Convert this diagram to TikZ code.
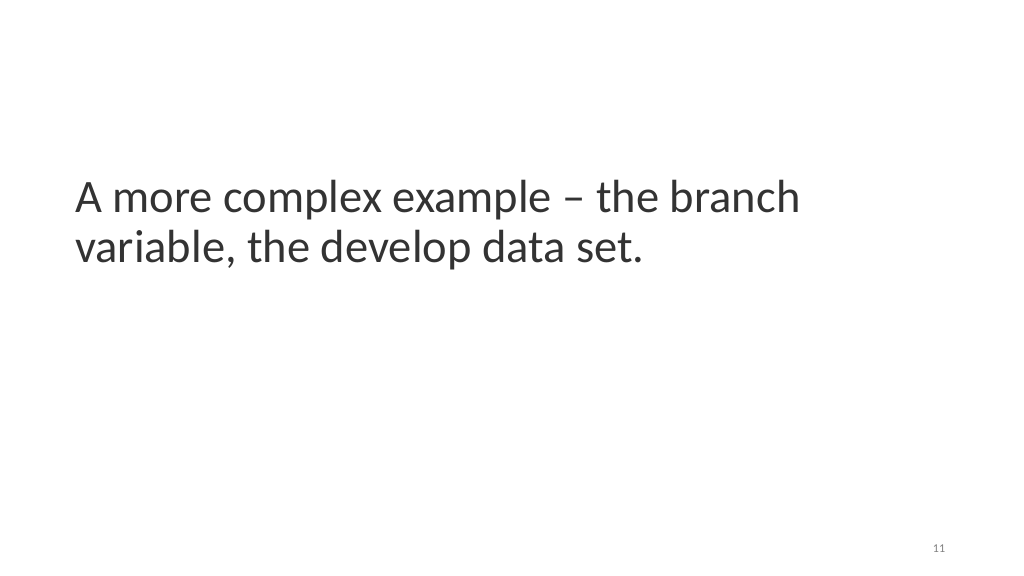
\documentclass[tikz,border=0pt]{standalone}
\usepackage{fontspec}
\setmainfont{Carlito}
\begin{document}
\begin{tikzpicture}[x=1bp,y=1bp,
  titletext/.style={anchor=base west,inner sep=0pt,text=black!80,font=\fontsize{46.5bp}{51bp}\selectfont},
  pagenum/.style={anchor=base,inner sep=0pt,text=black!50,font=\fontsize{12bp}{14bp}\selectfont}]
\useasboundingbox[fill=white] (0,0) rectangle (1024,576);
\node[titletext] (l1) at (75,576-213) {A more complex example -- the branch};
\node[titletext] (l2) at (75,576-263) {variable, the develop data set.};
\node[pagenum] (pn) at (939,576-553) {11};
\end{tikzpicture}
\end{document}
